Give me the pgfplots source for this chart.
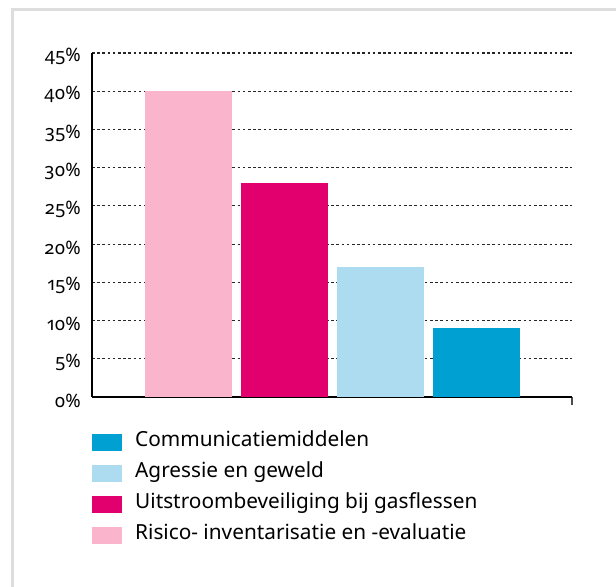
\documentclass[border=0pt]{standalone}
\usepackage{pgfplots}
\pgfplotsset{compat=1.18}
\usepackage{fontspec}
\setmainfont{Noto Sans}
\newfontfamily\tickfont{Noto Sans}[Numbers={OldStyle,Proportional}]
\definecolor{c1}{HTML}{FAB4CC}
\definecolor{c2}{HTML}{E1006E}
\definecolor{c3}{HTML}{ADDCF0}
\definecolor{c4}{HTML}{00A0D2}
\definecolor{frame}{HTML}{DDDDDD}
\begin{document}
\begin{tikzpicture}[x=1bp,y=1bp]
\path[use as bounding box] (0,0) rectangle (616,587);
\fill[white] (0,0) rectangle (616,587);
\draw[frame,line width=3bp] (12.5,0) -- (12.5,577.5) -- (616,577.5);
\begin{axis}[
  at={(92bp,190bp)}, anchor=south west,
  scale only axis, width=480bp, height=344bp,
  xmin=0, xmax=5, ymin=0, ymax=45,
  axis y line=left, axis x line=bottom,
  axis line style={line width=1.2bp,-},
  ytick={0,5,10,15,20,25,30,35,40,45},
  yticklabels={0\%,5\%,10\%,15\%,20\%,25\%,30\%,35\%,40\%,45\%},
  ytick style={draw=none},
  yticklabel style={font=\tickfont\fontsize{18.5bp}{20bp}\selectfont, inner xsep=0pt, xshift=-7bp, yshift=-3.5bp},
  xtick={5}, xticklabels={},
  xtick align=inside, major tick length=8bp,
  xtick style={draw=black!70,line width=1.5bp},
  ymajorgrids,
  grid style={black!85, line width=1.1bp, dash pattern=on 2.6bp off 2.6bp},
  ybar, bar width=87bp, bar shift=0pt,
  reverse legend,
  legend style={at={(0,-37/344)}, anchor=north west, draw=none, fill=none,
    inner sep=0pt, row sep=14bp,
    font=\fontsize{20.8bp}{22bp}\selectfont,
    nodes={inner ysep=0pt, inner xsep=0pt, text height=12bp, text depth=5bp}},
  legend cell align=left,
  legend image code/.code={\fill[#1,draw=none] (0bp,-8.5bp) rectangle (30bp,8.5bp);\path (43bp,0bp);},
]
\addplot[fill=c1,draw=none] coordinates {(1,40)};
\addplot[fill=c2,draw=none] coordinates {(2,28)};
\addplot[fill=c3,draw=none] coordinates {(3,17)};
\addplot[fill=c4,draw=none] coordinates {(4,9)};
\legend{Risico- inventarisatie en -evaluatie,Uitstroombeveiliging bij gasflessen,Agressie en geweld,Communicatiemiddelen}
\end{axis}
\end{tikzpicture}
\end{document}
